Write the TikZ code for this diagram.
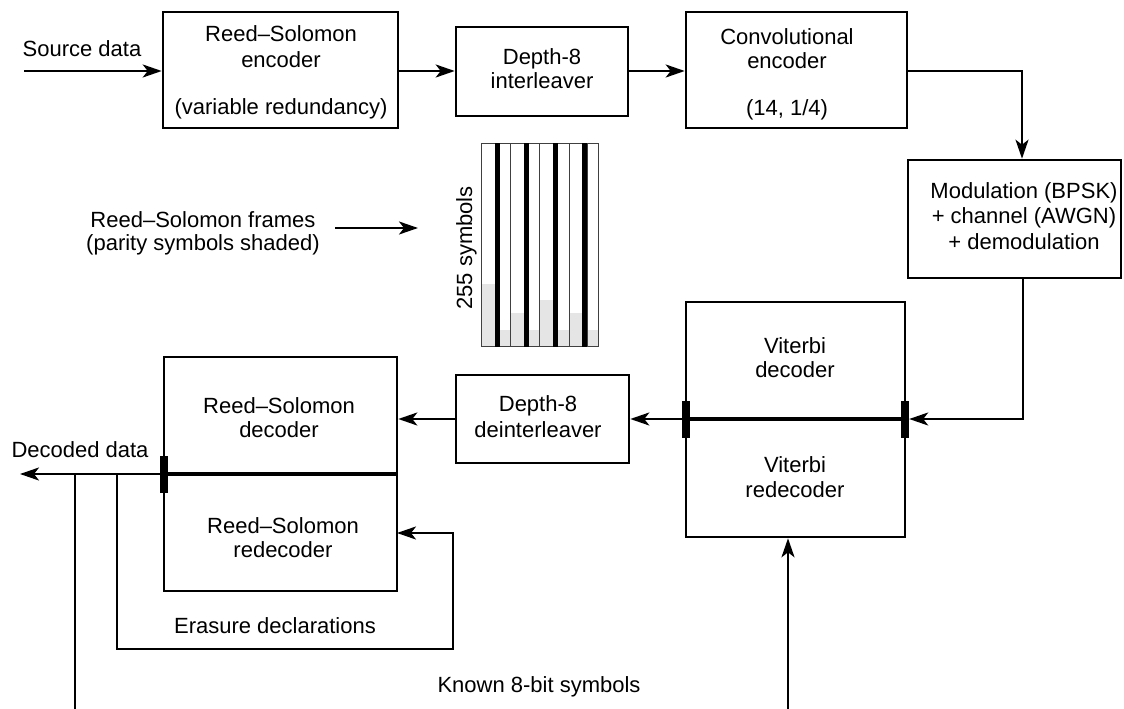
\documentclass[tikz,border=0pt]{standalone}
\usepackage{fontspec}
\setmainfont{Liberation Sans}
\usetikzlibrary{arrows.meta}
\begin{document}
\begin{tikzpicture}[x=1bp,y=-1bp,
  font=\fontsize{22bp}{26bp}\selectfont,
  box/.style={draw,line width=2.6bp,inner sep=0pt},
  conn/.style={line width=2.3bp},
  arr/.style={conn,-{Stealth[length=19bp,width=13bp,inset=5bp]}},
  bar/.style={fill=black,inner sep=0pt,minimum width=8bp,minimum height=37bp},
  txt/.style={inner sep=0pt,anchor=base},
  midline/.style={line width=3.2bp},
  frcol/.style={draw=black!75,line width=1bp},
  shade/.style={fill=black!10}]
\useasboundingbox (0,0) rectangle (1124,709);

% ---- boxes
\node[box,minimum width=235bp,minimum height=116bp] (rsenc) at (280.5,70) {};
\node[box,minimum width=172bp,minimum height=89bp] (int) at (542,71.5) {};
\node[box,minimum width=221bp,minimum height=116bp] (conv) at (796.5,70) {};
\node[box,minimum width=213bp,minimum height=118bp] (mod) at (1014.5,219) {};
\node[box,minimum width=219bp,minimum height=235bp] (vit) at (795.5,419.5) {};
\node[box,minimum width=173bp,minimum height=88bp] (deint) at (542.5,419) {};
\node[box,minimum width=233bp,minimum height=234bp] (rsdec) at (280.5,474) {};

% ---- texts
\node[txt] (tsrc) at (82,57) {Source data};
\node[txt] (t1) at (281,42) {Reed–Solomon};
\node[txt] (t2) at (281,68) {encoder};
\node[txt] (t3) at (281,115) {(variable redundancy)};
\node[txt] (t4) at (542,65) {Depth-8};
\node[txt] (t5) at (542,89) {interleaver};
\node[txt] (t6) at (787,45) {Convolutional};
\node[txt] (t7) at (787,69) {encoder};
\node[txt] (t8) at (787,116) {(14, 1/4)};
\node[txt] (t9) at (1024,199) {Modulation (BPSK)};
\node[txt] (t10) at (1024,224) {+ channel (AWGN)};
\node[txt] (t11) at (1024,249) {+ demodulation};
\node[txt] (t12) at (795,353) {Viterbi};
\node[txt] (t13) at (795,377) {decoder};
\node[txt] (t14) at (795,472) {Viterbi};
\node[txt] (t15) at (795,497) {redecoder};
\node[txt] (t16) at (538,411) {Depth-8};
\node[txt] (t17) at (538,437) {deinterleaver};
\node[txt] (t18) at (279,413) {Reed–Solomon};
\node[txt] (t19) at (279,437) {decoder};
\node[txt] (t20) at (283,533) {Reed–Solomon};
\node[txt] (t21) at (283,557) {redecoder};
\node[txt] (tdec) at (80,457) {Decoded data};
\node[txt] (tera) at (275,633) {Erasure declarations};
\node[txt] (tfr1) at (203,227) {Reed–Solomon frames};
\node[txt] (tfr2) at (203,250) {(parity symbols shaded)};
\node[txt] (tknown) at (539,692) {Known 8-bit symbols};
\node[txt,rotate=90] (tsym) at (472,248) {255 symbols};

% ---- split lines and bars
\draw[midline] (vit.west |- 0,419) -- (vit.east |- 0,419);
\draw[midline] (rsdec.west |- 0,474) -- (rsdec.east |- 0,474);
\node[bar] (vbarL) at (686,419) {};
\node[bar] (vbarR) at (905,419) {};
\node[bar] (rbar) at (164,474.5) {};

% ---- coordinates
\coordinate (src) at (24,71);
\coordinate (decout) at (20,474);
\coordinate (tapA) at (75,474);
\coordinate (endA) at (75,712);
\coordinate (tapB) at (117,474);
\coordinate (erc) at (453,649);
\coordinate (rsin) at (397,533);
\coordinate (knownB) at (788,712);
\coordinate (frS) at (335,228);
\coordinate (frE) at (418,228);

% ---- connectors
\draw[arr] (src) -- (rsenc.west |- src);
\draw[arr] (rsenc.east |- src) -- (int.west |- src);
\draw[arr] (int.east |- src) -- (conv.west |- src);
\draw[arr] (conv.east |- src) -| (mod.north -| 1022,0);
\draw[arr] (mod.south -| 1023,0) |- (vbarR.east);
\draw[arr] (vbarL.west) -- (deint.east |- vbarL.west);
\draw[arr] (deint.west) -- (rsdec.east |- deint.west);
\draw[arr] (rbar.west |- decout) -- (decout);
\draw[conn] (tapA) -- (endA);
\draw[arr] (tapB) |- (erc) |- (rsin);
\draw[arr] (knownB) -- (vit.south -| knownB);
\draw[arr] (frS) -- (frE);

% ---- Reed-Solomon frames (depth 8)
\foreach \x/\sa in {481.7/284,510.8/313,539.9/300,569.0/313}{
  \fill[shade] (\x,\sa) rectangle ({\x+13.3},346.7);
  \fill[shade] ({\x+18},330) rectangle ({\x+29.1},346.7);
  \draw[frcol] (\x,143.3) rectangle ({\x+13.3},346.7);
  \draw[frcol] ({\x+18},143.3) rectangle ({\x+29.1},346.7);
  \fill[black] ({\x+13.3},143.3) rectangle ({\x+18},346.7);
}
\end{tikzpicture}
\end{document}
